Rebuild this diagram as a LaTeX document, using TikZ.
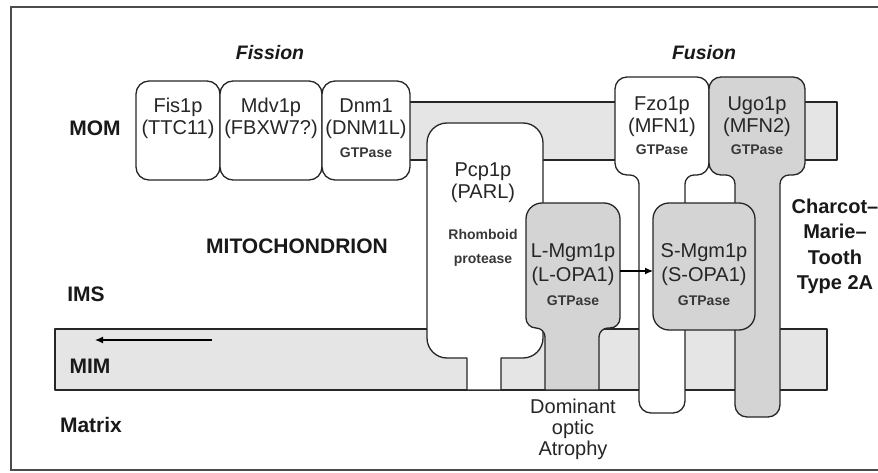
\documentclass[tikz,border=0pt]{standalone}
\usepackage{fontspec}
\setmainfont{Liberation Sans}
\usetikzlibrary{arrows.meta}
\begin{document}
\begin{tikzpicture}[x=1pt,y=-1pt,
  outl/.style={draw=black!85, line width=1.3pt, line join=round},
  band/.style={outl, fill=black!10},
  wprot/.style={outl, fill=white},
  gprot/.style={outl, fill=black!17},
  nm/.style={font=\fontsize{20}{22}\selectfont, text=black!85, anchor=base, inner sep=0pt},
  sm/.style={font=\fontsize{14}{16}\selectfont\bfseries, text=black!78, anchor=base, inner sep=0pt},
  lab/.style={font=\fontsize{21}{24}\selectfont\bfseries, text=black!90, anchor=base, inner sep=0pt},
  dis/.style={font=\fontsize{20}{25}\selectfont\bfseries, text=black!90, anchor=base, inner sep=0pt},
  ttl/.style={font=\fontsize{19.5}{22}\selectfont\bfseries\itshape, text=black!90, anchor=base, inner sep=0pt},
  arr/.style={draw=black, line width=1.2pt, -{Latex[length=8pt,width=7pt]}}]
\useasboundingbox (0,0) rectangle (878,473);
\fill[white] (0,0) rectangle (878,473);
% frame
\draw[draw=black!70, line width=2pt] (11,7) rectangle (884,470);
% membranes
\draw[band] (400,102) rectangle (837,160);
\draw[band] (55,329) rectangle (827,390);
% Fzo1p (white) with stem
\draw[wprot] (627,77) -- (697,77) arc[start angle=270,end angle=360,radius=12]
  -- (709,163) arc[start angle=0,end angle=90,radius=12]
  -- (694,175) arc[start angle=270,end angle=180,radius=9]
  -- (685,401) arc[start angle=0,end angle=90,radius=12]
  -- (651,413) arc[start angle=90,end angle=180,radius=12]
  -- (639,184) arc[start angle=360,end angle=270,radius=9]
  -- (627,175) arc[start angle=90,end angle=180,radius=12]
  -- (615,89) arc[start angle=180,end angle=270,radius=12] -- cycle;
% Ugo1p (gray) with stem
\draw[gprot] (721,77) -- (793,77) arc[start angle=270,end angle=360,radius=12]
  -- (805,163) arc[start angle=0,end angle=90,radius=12]
  -- (789,175) arc[start angle=270,end angle=180,radius=9]
  -- (780,405) arc[start angle=0,end angle=90,radius=12]
  -- (747,417) arc[start angle=90,end angle=180,radius=12]
  -- (735,184) arc[start angle=360,end angle=270,radius=9]
  -- (721,175) arc[start angle=90,end angle=180,radius=12]
  -- (709,89) arc[start angle=180,end angle=270,radius=12] -- cycle;
% Pcp1p (white)
\draw[wprot] (447,123) -- (523,123) arc[start angle=270,end angle=360,radius=20]
  -- (543,338) arc[start angle=0,end angle=90,radius=20]
  -- (501,358) -- (501,390) -- (467,390) -- (467,358)
  -- (447,358) arc[start angle=90,end angle=180,radius=20]
  -- (427,143) arc[start angle=180,end angle=270,radius=20] -- cycle;
% L-Mgm1p (gray) with stem
\draw[gprot] (542,203) -- (604,203) arc[start angle=270,end angle=360,radius=16]
  -- (620,318) arc[start angle=0,end angle=90,radius=10]
  -- (608,328) arc[start angle=270,end angle=180,radius=9]
  -- (599,390) -- (545,390)
  -- (545,337) arc[start angle=360,end angle=270,radius=9]
  arc[start angle=90,end angle=180,radius=10]
  -- (526,219) arc[start angle=180,end angle=270,radius=16] -- cycle;
% S-Mgm1p
\draw[gprot, rounded corners=16pt] (653,203) rectangle (755,330);
% fission boxes
\draw[wprot, rounded corners=13pt] (136,81) rectangle (220,180);
\draw[wprot, rounded corners=13pt] (220,81) rectangle (322,180);
\draw[wprot, rounded corners=13pt] (322,81) rectangle (410,180);

% titles
\node[ttl] (fission) at (270,60) {Fission};
\node[ttl] (fusion) at (704,60) {Fusion};
% region labels
\node[lab] (mom) at (95,136) {MOM};
\node[lab] (mito) at (297,253) {MITOCHONDRION};
\node[lab] (ims) at (86,301) {IMS};
\node[lab] (mim) at (90,373) {MIM};
\node[lab] (matrix) at (91,432) {Matrix};
% proteins
\node[nm] (fis1) at (178,113) {Fis1p};
\node[nm] (fis2) at (178,135) {(TTC11)};
\node[nm] (mdv1) at (271,113) {Mdv1p};
\node[nm] (mdv2) at (271,135) {(FBXW7?)};
\node[nm] (dnm1) at (366,113) {Dnm1};
\node[nm] (dnm2) at (366,135) {(DNM1L)};
\node[sm] (dnm3) at (366,158) {GTPase};
\node[nm] (fzo1) at (662,111) {Fzo1p};
\node[nm] (fzo2) at (662,133) {(MFN1)};
\node[sm] (fzo3) at (662,155) {GTPase};
\node[nm] (ugo1) at (757,111) {Ugo1p};
\node[nm] (ugo2) at (757,133) {(MFN2)};
\node[sm] (ugo3) at (757,155) {GTPase};
\node[nm] (pcp1) at (483,177) {Pcp1p};
\node[nm] (pcp2) at (483,199) {(PARL)};
\node[sm] (pcp3) at (483,240) {Rhomboid};
\node[sm] (pcp4) at (483,263) {protease};
\node[nm] (lm1) at (573,258) {L-Mgm1p};
\node[nm] (lm2) at (573,281) {(L-OPA1)};
\node[sm] (lm3) at (573,305) {GTPase};
\node[nm] (sm1) at (704,258) {S-Mgm1p};
\node[nm] (sm2) at (704,281) {(S-OPA1)};
\node[sm] (sm3) at (704,305) {GTPase};
% diseases
\node[dis] (cmt1) at (835,214) {Charcot--};
\node[dis] (cmt2) at (835,239) {Marie--};
\node[dis] (cmt3) at (835,264) {Tooth};
\node[dis] (cmt4) at (835,289) {Type 2A};
\node[nm] (doa1) at (573,413) {Dominant};
\node[nm] (doa2) at (573,434) {optic};
\node[nm] (doa3) at (573,455) {Atrophy};
% arrows
\coordinate (Lout) at (620,271);
\coordinate (Sin) at (653,271);
\draw[arr] (Lout) -- (Sin);
\coordinate (mimA) at (212,340);
\coordinate (mimB) at (95,340);
\draw[arr] (mimA) -- (mimB);
\end{tikzpicture}
\end{document}
